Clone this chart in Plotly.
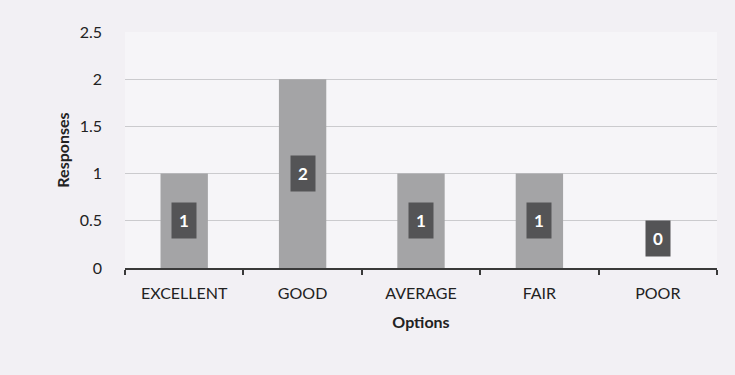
import plotly.graph_objects as go

# Survey responses per rating option
options = ["EXCELLENT", "GOOD", "AVERAGE", "FAIR", "POOR"]
responses = [1, 2, 1, 1, 0]
y_ticks = [0, 0.5, 1, 1.5, 2, 2.5]
y_tick_labels = ["0", "0.5", "1", "1.5", "2", "2.5"]

FONT = "Lato, 'Open Sans', sans-serif"

fig = go.Figure(
    go.Bar(
        x=options,
        y=responses,
        marker=dict(color="#a4a4a6", line=dict(width=0)),
        width=0.4,
        hoverinfo="skip",
    )
)

# Value labels in dark boxes, centred in each bar (zero-height bars get the box just above the axis)
for cat, val in zip(options, responses):
    common = dict(x=cat, text=f"<b>{val}</b>", showarrow=False,
                  font=dict(family=FONT, size=17, color="white"),
                  bgcolor="#545456", borderpad=7, xanchor="center")
    if val > 0:
        fig.add_annotation(y=val / 2, yanchor="middle", **common)
    else:
        fig.add_annotation(y=val, yanchor="bottom", yshift=11, **common)

fig.update_layout(
    width=735, height=375,
    margin=dict(l=125, r=18, t=32, b=107),
    paper_bgcolor="#f2f0f4",
    plot_bgcolor="#f6f5f8",
    font=dict(family=FONT, size=16, color="#222222"),
    showlegend=False,
    bargap=0.6,
)

fig.update_xaxes(
    showline=True, linecolor="#3a3a3a", linewidth=2,
    ticks="outside", tickson="boundaries", ticklen=5, tickcolor="#3a3a3a", tickwidth=2,
    showgrid=False, ticklabelstandoff=10,
    title=dict(text="<b>Options</b>", font=dict(family=FONT, size=16), standoff=16),
    tickfont=dict(family=FONT, size=16),
)

fig.update_yaxes(
    range=[0, 2.5], tickvals=y_ticks, ticktext=y_tick_labels,
    showline=False, ticks="", ticklabelstandoff=22,
    showgrid=True, gridcolor="#cbcbce", gridwidth=1,
    zeroline=False,
    title=dict(text="<b>Responses</b>", font=dict(family=FONT, size=16), standoff=6),
    tickfont=dict(family=FONT, size=16),
)

fig.write_html("out.html")
